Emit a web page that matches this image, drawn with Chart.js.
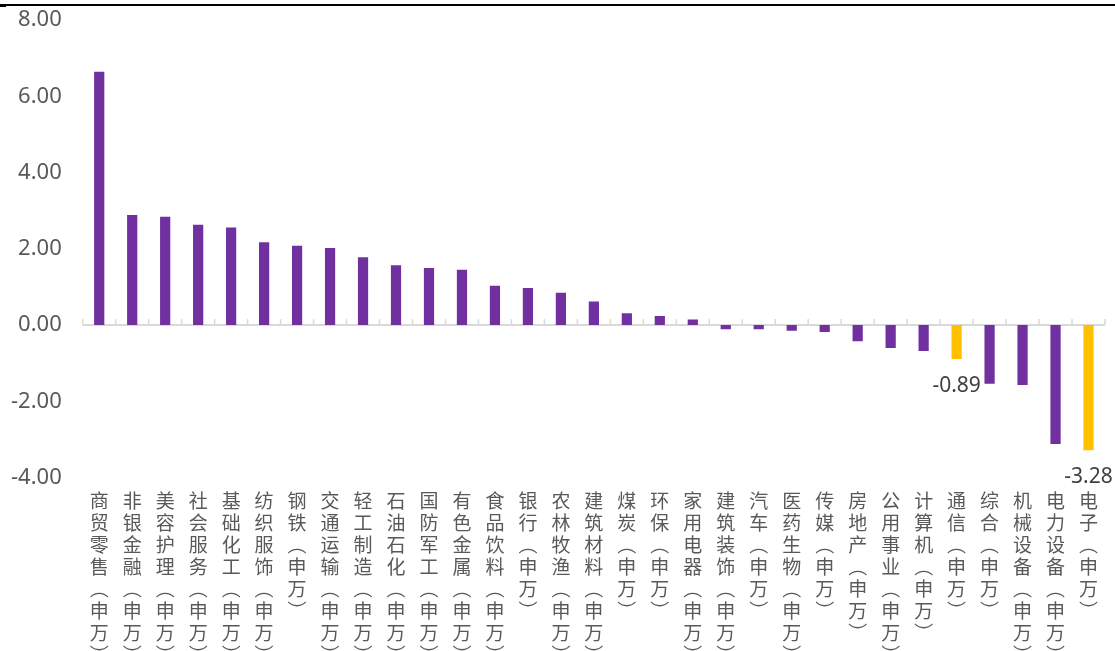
<!DOCTYPE html>
<html>
<head>
<meta charset="utf-8">
<script src="https://cdn.jsdelivr.net/npm/chart.js@4.4.1/dist/chart.umd.min.js"></script>
<style>
    html, body { margin: 0; padding: 0; background: #fff; overflow: hidden; }
    #wrap { position: absolute; left: 0; top: 0; width: 1115px; height: 678px; }
    #topLine { position: absolute; left: 0; top: 4px; width: 1115px; border-top: 2px solid #000; }
    #topMark { position: absolute; left: 0; top: 4px; width: 6px; height: 3px; background: #000; }
</style>
</head>
<body>
<div id="wrap"><canvas id="industryChart" width="1115" height="678"></canvas></div>
<div id="topLine"></div>
<div id="topMark"></div>
<script>
// 行业名称（申万一级）
const industries = ['商贸零售', '非银金融', '美容护理', '社会服务', '基础化工', '纺织服饰', '钢铁', '交通运输',
    '轻工制造', '石油石化', '国防军工', '有色金属', '食品饮料', '银行', '农林牧渔', '建筑材料',
    '煤炭', '环保', '家用电器', '建筑装饰', '汽车', '医药生物', '传媒', '房地产',
    '公用事业', '计算机', '通信', '综合', '机械设备', '电力设备', '电子'];
// 涨跌幅 (%)
const changes = [6.64, 2.89, 2.84, 2.63, 2.56, 2.17, 2.08, 2.02,
    1.78, 1.57, 1.50, 1.45, 1.03, 0.97, 0.85, 0.62,
    0.31, 0.24, 0.15, -0.11, -0.11, -0.15, -0.18, -0.42,
    -0.60, -0.68, -0.89, -1.54, -1.57, -3.12, -3.28];
// 需要标注数值的行业
const highlighted = ['通信', '电子'];
const yTicks = [-4, -2, 0, 2, 4, 6, 8];

// 竖排标签：每个字一行
const verticalLabels = industries.map(name => (name + '︵申万︶').split(''));
const barColors = industries.map(name => highlighted.includes(name) ? '#FFC000' : '#7030A0');

// 零轴与刻度线
const zeroAxisPlugin = {
    id: 'zeroAxis',
    beforeDatasetsDraw(chart) {
        const { ctx, chartArea, scales } = chart;
        const y0 = scales.y.getPixelForValue(0);
        ctx.save();
        ctx.strokeStyle = '#d9d9d9';
        ctx.lineWidth = 2;
        ctx.beginPath();
        ctx.moveTo(chartArea.left, y0);
        ctx.lineTo(chartArea.right, y0);
        ctx.stroke();
        ctx.lineWidth = 1.5;
        const step = (chartArea.right - chartArea.left) / industries.length;
        for (let i = 0; i <= industries.length; i++) {
            const x = chartArea.left + i * step;
            ctx.beginPath();
            ctx.moveTo(x, y0);
            ctx.lineTo(x, y0 - 6);
            ctx.stroke();
        }
        ctx.restore();
    }
};

// 数据标签（只标注高亮行业）
const valueLabelPlugin = {
    id: 'valueLabel',
    afterDatasetsDraw(chart) {
        const { ctx } = chart;
        const meta = chart.getDatasetMeta(0);
        ctx.save();
        ctx.font = '21px "Noto Sans"';
        ctx.fillStyle = '#404040';
        ctx.textAlign = 'center';
        ctx.textBaseline = 'middle';
        industries.forEach((name, i) => {
            if (!highlighted.includes(name)) return;
            const bar = meta.data[i];
            const v = changes[i];
            const y = v < 0 ? bar.y + 27 : bar.y - 27;
            ctx.fillText(v.toFixed(2), bar.x, y);
        });
        ctx.restore();
    }
};

const ctx = document.getElementById('industryChart').getContext('2d');
new Chart(ctx, {
    type: 'bar',
    data: {
        labels: verticalLabels,
        datasets: [{
            data: changes,
            backgroundColor: barColors,
            categoryPercentage: 1.0,
            barPercentage: 0.31
        }]
    },
    options: {
        responsive: false,
        animation: false,
        devicePixelRatio: 1,
        layout: { padding: { left: -10, right: 10, top: 0, bottom: 0 } },
        plugins: {
            legend: { display: false },
            tooltip: { enabled: false }
        },
        scales: {
            x: {
                grid: { display: false, drawTicks: false },
                border: { display: false },
                ticks: {
                    autoSkip: false,
                    maxRotation: 0,
                    minRotation: 0,
                    padding: 12,
                    color: '#595959',
                    font: { family: '"Noto Sans CJK SC"', size: 19, lineHeight: 1.16 }
                }
            },
            y: {
                min: yTicks[0],
                max: yTicks[yTicks.length - 1],
                afterBuildTicks(scale) {
                    scale.ticks = yTicks.map(v => ({ value: v }));
                },
                afterFit(scale) {
                    scale.paddingTop = 20;
                },
                grid: { display: false, drawTicks: false },
                border: { display: false },
                ticks: {
                    padding: 21,
                    color: '#595959',
                    font: { family: '"Noto Sans"', size: 22 },
                    callback: v => Number(v).toFixed(2)
                }
            }
        }
    },
    plugins: [zeroAxisPlugin, valueLabelPlugin]
});
</script>
</body>
</html>
